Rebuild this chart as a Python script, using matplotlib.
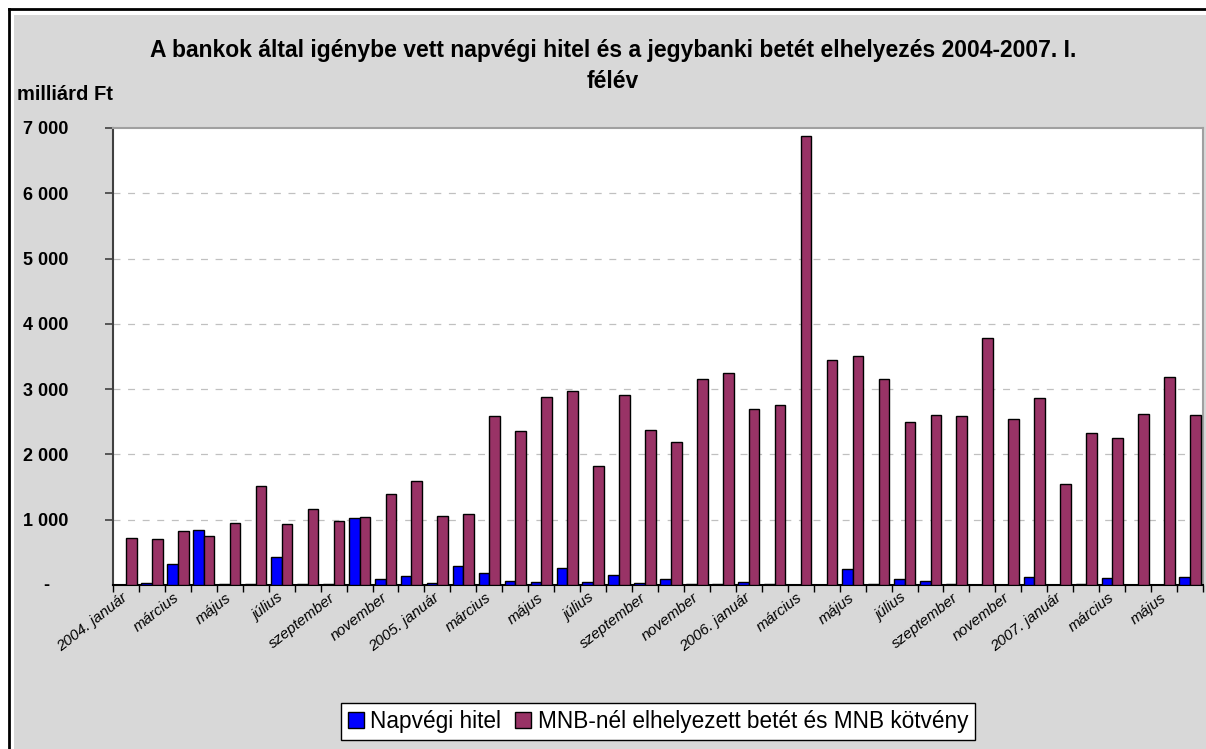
import matplotlib
matplotlib.use("Agg")
import matplotlib.pyplot as plt
from matplotlib.patches import Rectangle, Patch
from matplotlib.lines import Line2D
from matplotlib.ticker import FixedLocator
import numpy as np

plt.rcParams['font.family'] = ['Liberation Sans', 'DejaVu Sans']
plt.rcParams['lines.scale_dashes'] = False

# Monthly categories, 2004 January - 2007 June
categories = [
    "2004. január", "február", "március", "április", "május", "június",
    "július", "augusztus", "szeptember", "október", "november", "december",
    "2005. január", "február", "március", "április", "május", "június",
    "július", "augusztus", "szeptember", "október", "november", "december",
    "2006. január", "február", "március", "április", "május", "június",
    "július", "augusztus", "szeptember", "október", "november", "december",
    "2007. január", "február", "március", "április", "május", "június",
]

# Overnight loans (billion HUF)
napvegi_hitel = [
    5, 30, 320, 845, 15, 15, 425, 20, 10, 1030, 85, 135,
    35, 295, 180, 60, 45, 260, 45, 150, 25, 85, 10, 10,
    40, 20, 0, 0, 250, 10, 85, 55, 10, 0, 0, 125,
    0, 10, 105, 0, 0, 130,
]

# Deposits at MNB and MNB bonds (billion HUF)
mnb_betet = [
    715, 700, 820, 745, 950, 1510, 935, 1160, 980, 1035, 1400, 1590,
    1050, 1095, 2595, 2360, 2885, 2965, 1820, 2915, 2380, 2190, 3160, 3240,
    2690, 2750, 6875, 3450, 3505, 3155, 2495, 2605, 2585, 3790, 2540, 2865,
    1550, 2335, 2255, 2615, 3190, 2605,
]

series_labels = ["Napvégi hitel", "MNB-nél elhelyezett betét és MNB kötvény"]
ytick_values = [1000, 2000, 3000, 4000, 5000, 6000, 7000]
ytick_labels = ["1 000", "2 000", "3 000", "4 000", "5 000", "6 000", "7 000"]

title_line1 = "A bankok által igénybe vett napvégi hitel és a jegybanki betét elhelyezés 2004-2007. I."
title_line2 = "félév"
unit_label = "milliárd Ft"

BLUE = "#0000FF"
MAROON = "#993366"

W, H = 1206, 749
fig = plt.figure(figsize=(W / 100, H / 100), dpi=100)
fig.patch.set_facecolor("white")


def fx(px):
    return px / W


def fy(py):
    return 1 - py / H


# Gray chart area and outer black frame
fig.add_artist(Rectangle((fx(14), 0), 1, fy(15), transform=fig.transFigure,
                         facecolor="#d8d8d8", edgecolor="none", zorder=0))
fig.add_artist(Line2D([fx(8.5), fx(8.5)], [0, fy(8.5)], transform=fig.transFigure,
                      color="black", lw=2.0, zorder=1))
fig.add_artist(Line2D([fx(8.5), 1], [fy(8.5), fy(8.5)], transform=fig.transFigure,
                      color="black", lw=2.0, zorder=1))

# Plot area
ax = fig.add_axes([fx(113), fy(585), fx(1203) - fx(113), fy(128) - fy(585)])
ax.set_facecolor("white")

x = np.arange(len(categories))
bw = 0.41
ax.bar(x - bw / 2, napvegi_hitel, width=bw, color=BLUE, edgecolor="black",
       linewidth=1.0, zorder=3, label=series_labels[0])
ax.bar(x + bw / 2, mnb_betet, width=bw, color=MAROON, edgecolor="black",
       linewidth=1.0, zorder=3, label=series_labels[1])

ax.set_xlim(-0.5, len(categories) - 0.5)
ax.set_ylim(0, 7000)

# Y axis
ax.yaxis.set_major_locator(FixedLocator(ytick_values))
ax.set_yticklabels(ytick_labels, fontsize=13, fontweight="bold")
ax.tick_params(axis="y", direction="out", length=6, width=1.2, color="#404040", pad=26)
ax.annotate("-", xy=(0, 0), xycoords=("axes fraction", "data"),
            xytext=(-67, 0), textcoords="offset pixels",
            ha="center", va="center", fontsize=13, fontweight="bold")
for yv in ytick_values[:-1]:
    ax.axhline(yv, color="#c0c0c0", lw=0.9, dashes=(5, 5.5), zorder=1)

# X axis: boundary ticks, labels every second month
ax.xaxis.set_major_locator(FixedLocator(x[::2]))
ax.set_xticklabels(categories[::2], rotation=38, ha="right", rotation_mode="anchor",
                   va="center", fontsize=11, fontstyle="italic")
ax.tick_params(axis="x", which="major", length=0, pad=8)
ax.xaxis.set_minor_locator(FixedLocator(np.arange(-0.5, len(categories), 1.0)))
ax.tick_params(axis="x", which="minor", direction="out", length=5, width=1.0, color="black")

ax.spines["left"].set_color("#404040")
ax.spines["left"].set_linewidth(1.5)
ax.spines["bottom"].set_color("black")
ax.spines["bottom"].set_linewidth(1.5)
for s in ("top", "right"):
    ax.spines[s].set_color("#a0a0a0")
    ax.spines[s].set_linewidth(1.5)

# Titles
fig.text(fx(613), fy(50), title_line1, ha="center", va="center",
         fontsize=16.5, fontweight="bold")
fig.text(fx(613), fy(82), title_line2, ha="center", va="center",
         fontsize=16.5, fontweight="bold")
fig.text(fx(17), fy(94), unit_label, ha="left", va="center",
         fontsize=14.5, fontweight="bold")

# Legend
handles = [Patch(facecolor=BLUE, edgecolor="black", linewidth=1.0),
           Patch(facecolor=MAROON, edgecolor="black", linewidth=1.0)]
leg = fig.legend(handles, series_labels, loc="center",
                 bbox_to_anchor=(fx(658), fy(721.5)), ncol=2, frameon=True,
                 fancybox=False, shadow=False, fontsize=16.3,
                 handlelength=0.7, handleheight=0.7, handletextpad=0.3,
                 columnspacing=0.6, borderpad=0.3, borderaxespad=0)
leg.get_frame().set_edgecolor("black")
leg.get_frame().set_linewidth(1.0)
leg.get_frame().set_facecolor("white")
leg.get_frame().set_alpha(1)

fig.savefig("out.png", dpi=100, facecolor=fig.get_facecolor())
